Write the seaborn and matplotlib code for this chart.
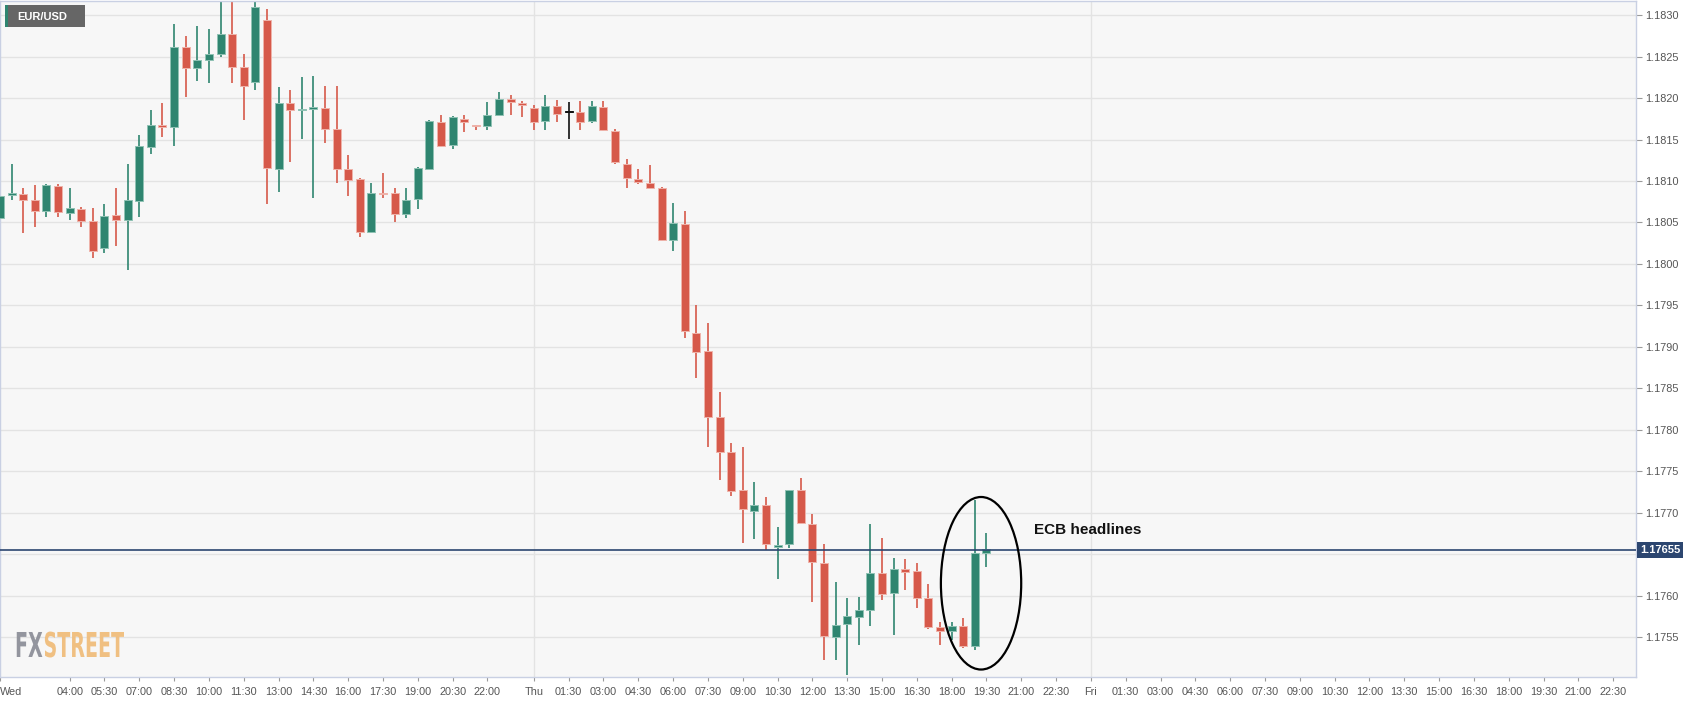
import numpy as np
import pandas as pd
import matplotlib
matplotlib.use("Agg")
import matplotlib.pyplot as plt
import matplotlib.dates as mdates
import matplotlib.transforms as mtransforms
from matplotlib.patches import Ellipse, Rectangle, PathPatch
from matplotlib.textpath import TextPath
from matplotlib.font_manager import FontProperties
import seaborn as sns

# EUR/USD 30-minute candles, Wed 01:00 -> Thu 19:30
start = "2021-07-21 01:00"

opens = [
    1.18055, 1.18083, 1.18084, 1.18077, 1.18064, 1.18094, 1.18061, 1.18066,
    1.18052, 1.18019, 1.18059, 1.18053, 1.18076, 1.18141, 1.18167, 1.18165,
    1.18261, 1.18236, 1.18246, 1.18253, 1.18277, 1.18238, 1.18219, 1.18294,
    1.18115, 1.18194, 1.18185, 1.18187, 1.18188, 1.18163, 1.18114, 1.18102,
    1.18039, 1.18086, 1.18085, 1.18060, 1.18078, 1.18115, 1.18171, 1.18143,
    1.18175, 1.18167, 1.18166, 1.18180, 1.18199, 1.18194, 1.18188, 1.18172,
    1.18190, 1.18183, 1.18183, 1.18172, 1.18189, 1.18160, 1.18121, 1.18102,
    1.18098, 1.18091, 1.18029, 1.18048, 1.17917, 1.17895, 1.17816, 1.17773,
    1.17727, 1.17702, 1.17709, 1.17659, 1.17662, 1.17727, 1.17687, 1.17639,
    1.17550, 1.17566, 1.17574, 1.17583, 1.17627, 1.17603, 1.17632, 1.17630,
    1.17597, 1.17562, 1.17558, 1.17564, 1.17539, 1.17651,
]
highs = [
    1.18097, 1.18121, 1.18092, 1.18095, 1.18096, 1.18096, 1.18091, 1.18069,
    1.18067, 1.18072, 1.18091, 1.18121, 1.18156, 1.18185, 1.18194, 1.18289,
    1.18275, 1.18287, 1.18283, 1.18320, 1.18316, 1.18253, 1.18325, 1.18307,
    1.18213, 1.18210, 1.18225, 1.18227, 1.18214, 1.18214, 1.18131, 1.18104,
    1.18098, 1.18110, 1.18092, 1.18092, 1.18117, 1.18173, 1.18180, 1.18178,
    1.18179, 1.18167, 1.18195, 1.18207, 1.18204, 1.18197, 1.18191, 1.18204,
    1.18198, 1.18195, 1.18196, 1.18196, 1.18196, 1.18163, 1.18127, 1.18115,
    1.18119, 1.18093, 1.18073, 1.18064, 1.17950, 1.17929, 1.17846, 1.17784,
    1.17779, 1.17737, 1.17719, 1.17683, 1.17727, 1.17742, 1.17698, 1.17662,
    1.17616, 1.17597, 1.17599, 1.17686, 1.17669, 1.17645, 1.17644, 1.17639,
    1.17614, 1.17568, 1.17568, 1.17573, 1.17715, 1.17675,
]
lows = [
    1.18049, 1.18077, 1.18037, 1.18045, 1.18057, 1.18057, 1.18053, 1.18045,
    1.18007, 1.18013, 1.18022, 1.17993, 1.18056, 1.18132, 1.18153, 1.18142,
    1.18201, 1.18221, 1.18218, 1.18250, 1.18218, 1.18174, 1.18210, 1.18072,
    1.18087, 1.18123, 1.18151, 1.18080, 1.18146, 1.18098, 1.18082, 1.18033,
    1.18037, 1.18079, 1.18050, 1.18055, 1.18066, 1.18114, 1.18141, 1.18138,
    1.18159, 1.18162, 1.18161, 1.18179, 1.18179, 1.18177, 1.18161, 1.18162,
    1.18171, 1.18151, 1.18162, 1.18170, 1.18160, 1.18121, 1.18092, 1.18096,
    1.18090, 1.18028, 1.18016, 1.17911, 1.17862, 1.17779, 1.17739, 1.17720,
    1.17663, 1.17668, 1.17655, 1.17620, 1.17657, 1.17687, 1.17593, 1.17522,
    1.17522, 1.17505, 1.17540, 1.17564, 1.17595, 1.17553, 1.17607, 1.17585,
    1.17560, 1.17540, 1.17546, 1.17537, 1.17535, 1.17635,
]
closes = [
    1.18082, 1.18085, 1.18077, 1.18064, 1.18095, 1.18062, 1.18068, 1.18052,
    1.18016, 1.18058, 1.18053, 1.18077, 1.18142, 1.18167, 1.18165, 1.18262,
    1.18236, 1.18246, 1.18253, 1.18277, 1.18238, 1.18215, 1.18310, 1.18116,
    1.18194, 1.18185, 1.18187, 1.18188, 1.18163, 1.18115, 1.18101, 1.18039,
    1.18085, 1.18084, 1.18060, 1.18077, 1.18116, 1.18172, 1.18142, 1.18177,
    1.18171, 1.18166, 1.18180, 1.18199, 1.18195, 1.18191, 1.18171, 1.18190,
    1.18181, 1.18183, 1.18171, 1.18190, 1.18161, 1.18123, 1.18103, 1.18099,
    1.18091, 1.18029, 1.18049, 1.17919, 1.17894, 1.17815, 1.17773, 1.17726,
    1.17705, 1.17709, 1.17662, 1.17661, 1.17727, 1.17688, 1.17641, 1.17551,
    1.17565, 1.17575, 1.17583, 1.17627, 1.17602, 1.17632, 1.17629, 1.17597,
    1.17562, 1.17558, 1.17563, 1.17539, 1.17651, 1.17656,
]

last_price = 1.17655
y_ticks = [1.1755, 1.1760, 1.1765, 1.1770, 1.1775, 1.1780, 1.1785, 1.1790,
           1.1795, 1.1800, 1.1805, 1.1810, 1.1815, 1.1820, 1.1825, 1.1830]

wed_ticks = ["04:00", "05:30", "07:00", "08:30", "10:00", "11:30", "13:00",
             "14:30", "16:00", "17:30", "19:00", "20:30", "22:00"]
day_ticks = ["01:30", "03:00", "04:30", "06:00", "07:30", "09:00", "10:30",
             "12:00", "13:30", "15:00", "16:30", "18:00", "19:30", "21:00",
             "22:30"]

df = pd.DataFrame({
    "time": pd.date_range(start, periods=len(opens), freq="30min"),
    "open": opens, "high": highs, "low": lows, "close": closes,
})
df["x"] = mdates.date2num(df["time"])

green = "#2f8570"
red = "#d6594a"
colors = np.where(df["close"] > df["open"], green,
                  np.where(df["close"] < df["open"], red, "#111111"))
edges = np.where(df["close"] > df["open"], "#8fc2b4",
                 np.where(df["close"] < df["open"], "#efb3aa", "#111111"))

sns.set_style("white")
plt.rcParams["font.family"] = ["Liberation Sans", "DejaVu Sans"]

W, H = 1707, 703
fig = plt.figure(figsize=(W / 100, H / 100), dpi=100)
ax = fig.add_axes([0.0, 0.037, 0.9584, 0.9616])
ax.set_facecolor("#f7f7f7")

# grid
for yt in y_ticks:
    ax.axhline(yt, color="#e3e3e3", lw=1, zorder=0)
for day in ["2021-07-22", "2021-07-23"]:
    ax.axvline(mdates.date2num(pd.Timestamp(day)), color="#e3e3e3", lw=1, zorder=0)

# candles
bar_w = 0.345 / 24
ax.vlines(df["x"], df["low"], df["high"], colors=colors, lw=1.2, zorder=2)
body_lo = np.minimum(df["open"], df["close"])
body_h = np.maximum(np.abs(df["close"] - df["open"]), 0.000018)
ax.bar(df["x"], body_h, bottom=body_lo, width=bar_w, color=colors,
       edgecolor=edges, linewidth=0.7, zorder=3)

# last price line + label
ax.axhline(last_price, color="#2c4670", lw=1.2, zorder=4)
trans = mtransforms.blended_transform_factory(ax.transAxes, ax.transData)
ax.text(1.0025, last_price, f"{last_price:.5f}", transform=trans,
        ha="left", va="center", color="white", fontsize=8, fontweight="bold",
        clip_on=False, zorder=20,
        bbox=dict(boxstyle="square,pad=0.28", fc="#2c4670", ec="none"))

# annotation
ell = Ellipse((mdates.date2num(pd.Timestamp("2021-07-22 19:16")), 1.17615),
              width=3.46 / 24, height=0.00208, fill=False, ec="black",
              lw=1.6, zorder=5)
ax.add_patch(ell)
ax.text(mdates.date2num(pd.Timestamp("2021-07-22 21:33")), 1.17679,
        "ECB headlines", ha="left", va="center", fontsize=11,
        fontweight="bold", color="#111111")

# axes limits
ax.set_xlim(mdates.date2num(pd.Timestamp("2021-07-21 01:00")),
            mdates.date2num(pd.Timestamp("2021-07-23 23:29")))
ax.set_ylim(1.17502, 1.18317)

# x ticks
tick_pos = [pd.Timestamp("2021-07-21 01:00")]
tick_lab = ["Wed"]
tick_pos += [pd.Timestamp("2021-07-21 " + t) for t in wed_ticks]
tick_lab += wed_ticks
for day, name in [("2021-07-22", "Thu"), ("2021-07-23", "Fri")]:
    tick_pos.append(pd.Timestamp(day))
    tick_lab.append(name)
    tick_pos += [pd.Timestamp(day + " " + t) for t in day_ticks]
    tick_lab += day_ticks
ax.set_xticks(mdates.date2num(tick_pos))
ax.set_xticklabels(tick_lab)
ax.get_xticklabels()[0].set_horizontalalignment("left")

ax.yaxis.tick_right()
ax.set_yticks(y_ticks)
ax.set_yticklabels([f"{v:.4f}" for v in y_ticks])

ax.tick_params(axis="x", bottom=True, length=3, width=0.8, color="#9a9a9a",
               labelsize=7.8, labelcolor="#555555", pad=4)
ax.tick_params(axis="y", right=True, left=False, length=4, width=0.8,
               color="#9a9a9a", labelsize=7.8, labelcolor="#555555", pad=2.5)

for sp in ax.spines.values():
    sp.set_visible(True)
    sp.set_color("#c9d0e3")
    sp.set_linewidth(1)

# instrument tag
fig.patches.append(Rectangle((5 / W, 1 - 27 / H), 80 / W, 22 / H,
                             transform=fig.transFigure, fc="#666666", ec="none",
                             zorder=10))
fig.patches.append(Rectangle((5 / W, 1 - 27 / H), 2.5 / W, 22 / H,
                             transform=fig.transFigure, fc=green, ec="none",
                             zorder=11))
fig.text(17 / W, 1 - 16.5 / H, "EUR/USD", color="white", fontsize=8,
         fontweight="bold", ha="left", va="center", zorder=12)

# watermark, condensed bold lettering drawn in pixel space
fp = FontProperties(family="DejaVu Sans", weight="bold")
p_fx = TextPath((0, 0), "FX", size=34, prop=fp)
p_st = TextPath((0, 0), "STREET", size=34, prop=fp)
w_fx = p_fx.get_extents().x1
w_st = p_st.get_extents().x1
sx = 109 / (w_fx + w_st + 2)
sy = 25 / (0.729 * 34)
x0, y0 = 15, H - 657
for path, dx, col in [(p_fx, 0, "#8e9099"), (p_st, w_fx + 2, "#f0bd7c")]:
    tr = mtransforms.Affine2D().scale(sx, sy).translate(x0 + dx * sx, y0)
    fig.patches.append(PathPatch(path, transform=tr, fc=col, ec="none",
                                 alpha=0.95, zorder=12))

fig.savefig("out.png", dpi=100, facecolor="white")
